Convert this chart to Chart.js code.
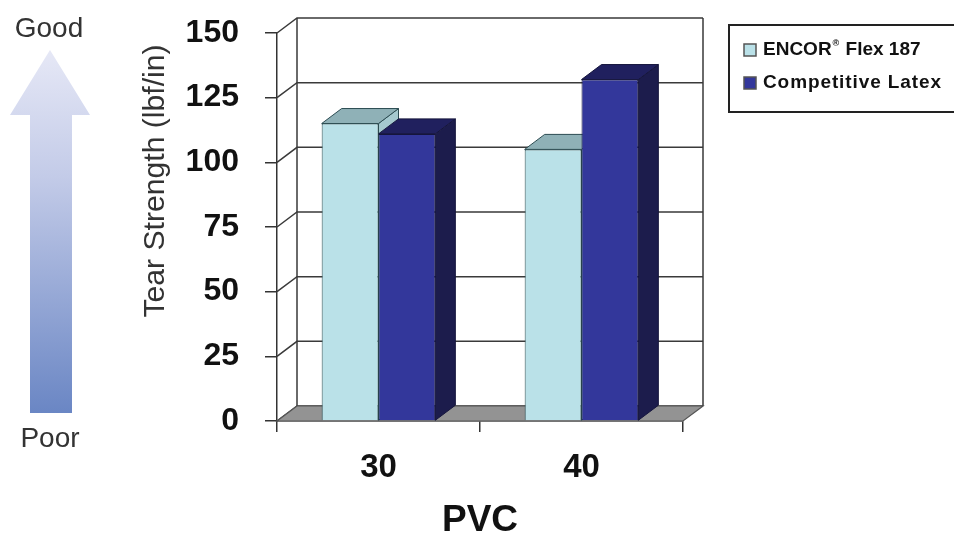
<!DOCTYPE html>
<html><head><meta charset="utf-8">
<script src="https://cdn.jsdelivr.net/npm/chart.js@4"></script>
<style>html,body{margin:0;padding:0;background:#fff}#wrap{width:954px;height:537px;position:relative}</style>
</head><body><div id="wrap"><canvas id="c" width="954" height="537"></canvas></div>
<script>
// ---- data ----
const categories = ['30', '40'];
const encorValues = [115, 105];
const latexValues = [111, 132];
const seriesLabels = ['ENCOR® Flex 187', 'Competitive Latex'];
const yAxisTitle = 'Tear Strength (lbf/in)';
const xAxisTitle = 'PVC';
const yMin = 0, yMax = 150, yStep = 25;
const scaleWords = ['Good', 'Poor'];

// ---- style ----
const FONT = '"Liberation Sans", Arial, Helvetica, sans-serif';
const DX = 20, DY = -15;
const palettes = [
  {front: '#bae1e8', top: '#8fb1b7', side: '#a5c9cf', edge: '#2c4c52'},
  {front: '#33379b', top: '#20205e', side: '#1c1c4c', edge: '#15153c'}
];

function poly(ctx, pts, fill, stroke, lw) {
  ctx.beginPath();
  ctx.moveTo(pts[0][0], pts[0][1]);
  for (let i = 1; i < pts.length; i++) ctx.lineTo(pts[i][0], pts[i][1]);
  ctx.closePath();
  if (fill) { ctx.fillStyle = fill; ctx.fill(); }
  if (stroke) { ctx.strokeStyle = stroke; ctx.lineWidth = lw || 1; ctx.stroke(); }
}

const decor = {
  id: 'decor',
  beforeDatasetsDraw(chart) {
    const {ctx, chartArea: {left: L, right: R, top: T, bottom: B}, scales: {y}} = chart;
    ctx.save();
    // back wall + side wall lines
    ctx.strokeStyle = '#3a3a3a'; ctx.lineWidth = 1.5;
    y.ticks.forEach(t => {
      const py = y.getPixelForValue(t.value);
      ctx.beginPath();
      ctx.moveTo(L, py); ctx.lineTo(L + DX, py + DY); ctx.lineTo(R + DX, py + DY);
      ctx.stroke();
    });
    ctx.beginPath();
    ctx.moveTo(L + DX, T + DY); ctx.lineTo(L + DX, B + DY);
    ctx.moveTo(R + DX, T + DY); ctx.lineTo(R + DX, B + DY);
    ctx.stroke();
    // floor
    poly(ctx, [[L, B], [R, B], [R + DX, B + DY], [L + DX, B + DY]], '#939393', '#555', 1.2);
    // 3D faces of bars
    chart.data.datasets.forEach((ds, di) => {
      const meta = chart.getDatasetMeta(di);
      const p = palettes[di];
      meta.data.forEach(el => {
        const {x, y: top, base, width} = el.getProps(['x', 'y', 'base', 'width'], true);
        const xl = x - width / 2, xr = x + width / 2;
        poly(ctx, [[xr, top], [xr + DX, top + DY], [xr + DX, base + DY], [xr, base]], p.side, p.edge, 1);
        poly(ctx, [[xl, top], [xr, top], [xr + DX, top + DY], [xl + DX, top + DY]], p.top, p.edge, 1);
      });
    });
    ctx.restore();
  },
  afterDraw(chart) {
    const {ctx} = chart;
    ctx.save();
    // y axis title
    ctx.translate(156, 181);
    ctx.rotate(-Math.PI / 2);
    ctx.fillStyle = '#333';
    ctx.font = '29px ' + FONT;
    ctx.textAlign = 'center'; ctx.textBaseline = 'middle';
    const tw = ctx.measureText(yAxisTitle).width;
    const sx = 273 / tw;
    ctx.scale(sx, 1);
    ctx.fillText(yAxisTitle, 0, 0);
    ctx.restore();
    ctx.save();
    // Good / Poor arrow
    const g = ctx.createLinearGradient(0, 50, 0, 413);
    g.addColorStop(0, '#e6e8f6');
    g.addColorStop(0.35, '#c3cbe8');
    g.addColorStop(1, '#6a86c4');
    poly(ctx, [[50, 50], [90, 115], [72, 115], [72, 413], [30, 413], [30, 115], [10, 115]], g, null);
    ctx.fillStyle = '#333';
    ctx.font = '28px ' + FONT;
    ctx.textAlign = 'center'; ctx.textBaseline = 'middle';
    ctx.fillText(scaleWords[0], 49, 29);
    ctx.fillText(scaleWords[1], 50, 439);
    // legend
    ctx.strokeStyle = '#222'; ctx.lineWidth = 2;
    ctx.strokeRect(729, 25, 240, 87);
    const rows = [50, 83];
    const spacing = ['0px', '0.9px'];
    seriesLabels.forEach((lab, i) => {
      const cy = rows[i];
      ctx.fillStyle = palettes[i].front;
      ctx.fillRect(744, cy - 6, 12, 12);
      ctx.strokeStyle = '#555'; ctx.lineWidth = 1.5;
      ctx.strokeRect(744, cy - 6, 12, 12);
      ctx.fillStyle = '#111';
      ctx.textAlign = 'left'; ctx.textBaseline = 'middle';
      ctx.letterSpacing = spacing[i];
      let x = 763;
      const parts = lab.split('®');
      ctx.font = 'bold 19px ' + FONT;
      ctx.fillText(parts[0], x, cy);
      x += ctx.measureText(parts[0]).width;
      if (parts.length > 1) {
        ctx.font = 'bold 9px ' + FONT;
        ctx.fillText('®', x + 1, cy - 6);
        x += ctx.measureText('®').width + 2;
        ctx.font = 'bold 19px ' + FONT;
        ctx.fillText(parts[1], x, cy);
      }
    });
    ctx.restore();
  }
};

new Chart(document.getElementById('c'), {
  type: 'bar',
  data: {
    labels: categories,
    datasets: [
      {label: seriesLabels[0], data: encorValues, backgroundColor: palettes[0].front, borderColor: palettes[0].edge, borderWidth: 1},
      {label: seriesLabels[1], data: latexValues, backgroundColor: palettes[1].front, borderColor: palettes[1].edge, borderWidth: 1}
    ]
  },
  options: {
    responsive: false,
    animation: false,
    devicePixelRatio: 1,
    categoryPercentage: 0.56,
    barPercentage: 1,
    layout: {padding: {left: 130, right: 271, top: 33, bottom: 0}},
    plugins: {legend: {display: false}, tooltip: {enabled: false}},
    scales: {
      x: {
        ticks: {font: {family: FONT, size: 33, weight: 'bold'}, color: '#111', padding: 16},
        grid: {offset: true, drawOnChartArea: false, drawTicks: true, tickLength: 11, color: '#333', lineWidth: 1.5},
        border: {display: true, color: '#333', width: 1.5},
        title: {display: true, text: xAxisTitle, font: {family: FONT, size: 37, weight: 'bold', lineHeight: 0.9}, color: '#111', padding: 0},
        afterFit(s) { s.height = 116; s.paddingLeft = 0; s.paddingRight = 0; }
      },
      y: {
        min: yMin, max: yMax,
        ticks: {stepSize: yStep, font: {family: FONT, size: 32, weight: 'bold'}, color: '#111', padding: 26},
        grid: {drawOnChartArea: false, drawTicks: true, tickLength: 12, color: '#333', lineWidth: 1.5},
        border: {display: true, color: '#333', width: 1.5},
        title: {display: false, text: yAxisTitle},
        afterFit(s) { s.width = 147; s.paddingTop = 0; s.paddingBottom = 0; }
      }
    }
  },
  plugins: [decor]
});
</script></body></html>
